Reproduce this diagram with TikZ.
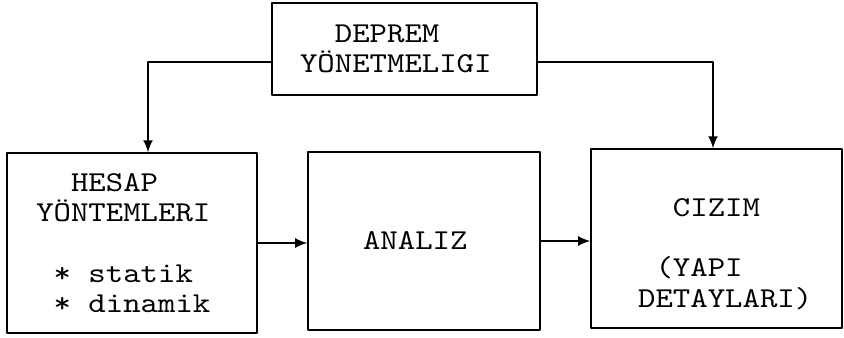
\documentclass[tikz,border=0pt]{standalone}
\usepackage{fontspec}
\newfontfamily\tw{lmmono10-regular.otf}[FakeStretch=1.15]
\usetikzlibrary{calc,arrows.meta}
\newcommand\bl{\phantom{X}}
\begin{document}
\begin{tikzpicture}[line join=round,>={Latex[length=8.5pt,width=7pt]},x=0.025cm,y=-0.025cm]
	\tikzset{every node/.style={font=\tw\fontsize{20.5}{21.5}\selectfont},
		box/.style={draw,line width=1.1pt,align=left,inner sep=0pt}}
	\useasboundingbox (0,0) rectangle (844,337);
	\node[box,minimum width=6.625cm,minimum height=2.3cm] (dep) at (404.5,49) {\bl\bl DEPREM\\YÖNETMELIGI\bl};
	\node[box,minimum width=6.25cm,minimum height=4.5cm] (hes) at (132,243) {\bl\bl HESAP\\YÖNTEMLERI\bl\\ \\\bl* statik\\\bl* dinamik};
	\node[box,minimum width=5.8cm,minimum height=4.45cm] (ana) at (424,241) {ANALIZ\bl};
	\node[box,minimum width=6.275cm,minimum height=4.475cm] (ciz) at (716.5,238.5) {\rule{0pt}{1.7em}\bl\bl\bl CIZIM\\ \\\bl\bl(YAPI\\\bl DETAYLARI)};
	\draw[line width=1.1pt,->] ($(dep.west)+(0,13)$) -| ($(hes.north)+(16,0)$);
	\draw[line width=1.1pt,->] ($(dep.east)+(0,13)$) -| ($(ciz.north)+(-3.5,0)$);
	\draw[line width=1.1pt,->] (hes.east) -- (hes.east -| ana.west);
	\draw[line width=1.1pt,->] (ana.east) -- (ana.east -| ciz.west);
\end{tikzpicture}
\end{document}
